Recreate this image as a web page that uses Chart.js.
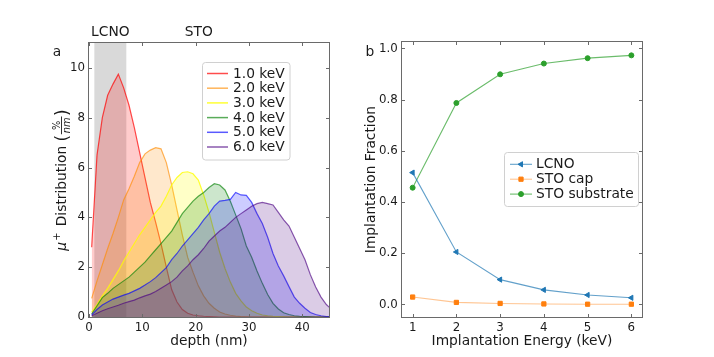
<!DOCTYPE html>
<html><head><meta charset="utf-8">
<script src="https://cdn.jsdelivr.net/npm/chart.js@4.4.1/dist/chart.umd.min.js"></script>
<style>
html,body{margin:0;padding:0;background:#fff;}
#wrap{position:relative;width:714px;height:357px;overflow:hidden;background:#fff;}
canvas{position:absolute;top:0;}
#ca{left:0;} #cb{left:357px;}
</style></head><body>
<div id="wrap"><canvas id="ca" width="357" height="357"></canvas><canvas id="cb" width="357" height="357"></canvas></div>
<script>
// ---------- Panel a data: muon stopping distribution (%/nm) vs depth (nm)
const depth = [0.5,1.5,2.5,3.5,4.5,5.5,6.5,7.5,8.5,9.5,10.5,11.5,12.5,13.5,14.5,15.5,16.5,17.5,18.5,19.5,20.5,21.5,22.5,23.5,24.5,25.5,26.5,27.5,28.5,29.5,30.5,31.5,32.5,33.5,34.5,35.5,36.5,37.5,38.5,39.5,40.5,41.5,42.5,43.5,44.5,45.5];
const dist1keV = [2.8,6.5,8.0,8.9,9.35,9.75,9.2,8.5,7.6,6.6,5.6,4.6,3.8,2.95,2.0,1.1,0.6,0.3,0.15,0.08,0.05,0.03,0.02,0.01,0,0,0,0,0,0,0,0,0,0,0,0,0,0,0,0,0,0,0,0,0,0];
const dist2keV = [0.75,1.45,2.1,2.75,3.35,4.0,4.7,5.15,5.65,6.2,6.55,6.7,6.8,6.75,6.2,5.3,4.3,3.3,2.4,1.8,1.25,0.85,0.55,0.35,0.2,0.12,0.07,0.04,0.02,0.01,0,0,0,0,0,0,0,0,0,0,0,0,0,0,0,0];
const dist3keV = [0.2,0.5,0.85,1.15,1.5,1.85,2.25,2.6,2.95,3.3,3.6,3.9,4.2,4.45,4.85,5.3,5.6,5.8,5.83,5.75,5.5,4.9,4.2,3.4,2.6,1.95,1.4,0.95,0.65,0.4,0.25,0.15,0.08,0.05,0.03,0.02,0.01,0,0,0,0,0,0,0,0,0];
const dist4keV = [0.12,0.45,0.78,0.95,1.15,1.3,1.45,1.6,1.8,2.0,2.2,2.45,2.7,2.95,3.2,3.45,3.8,4.15,4.4,4.65,4.85,5.0,5.2,5.35,5.3,5.1,4.65,4.1,3.55,2.85,2.4,1.85,1.35,0.9,0.55,0.32,0.17,0.1,0.05,0.03,0.02,0.01,0,0,0,0];
const dist5keV = [0.08,0.3,0.48,0.6,0.72,0.8,0.88,0.95,1.05,1.15,1.28,1.42,1.58,1.78,1.98,2.3,2.55,2.85,3.1,3.35,3.6,3.9,4.15,4.45,4.65,4.68,4.72,5.0,4.9,4.88,4.6,4.15,3.75,3.2,2.55,2.05,1.65,1.22,0.8,0.55,0.35,0.18,0.1,0.05,0.02,0.01];
const dist6keV = [0.05,0.15,0.25,0.33,0.4,0.47,0.55,0.62,0.68,0.77,0.85,0.92,1.02,1.15,1.28,1.42,1.6,1.85,2.05,2.3,2.5,2.75,3.05,3.25,3.45,3.6,3.8,4.0,4.15,4.3,4.45,4.55,4.6,4.55,4.5,4.2,3.9,3.65,3.2,2.75,2.3,1.7,1.2,0.8,0.5,0.3];
const energyLabels = ['1.0 keV','2.0 keV','3.0 keV','4.0 keV','5.0 keV','6.0 keV'];
const xTicksA = [0,10,20,30,40];
const yTicksA = [0,2,4,6,8,10];
const lcnoLayer = [1,7];   // nm, LCNO layer band

// ---------- Panel b data: implantation fraction vs energy
const energies = [1,2,3,4,5,6];
const fracLCNO = [0.515,0.205,0.097,0.057,0.037,0.026];
const fracSTOcap = [0.029,0.008,0.004,0.002,0.001,0.001];
const fracSTOsub = [0.456,0.787,0.899,0.941,0.962,0.973];
const seriesLabelsB = ['LCNO','STO cap','STO substrate'];
const xTicksB = [1,2,3,4,5,6];
const yTicksB = [0,0.2,0.4,0.6,0.8,1.0];

// ---------- styles
const FONT = "'DejaVu Sans', sans-serif";
const TXT = '#1a1a1a';
const seriesA = [dist1keV,dist2keV,dist3keV,dist4keV,dist5keV,dist6keV];
const lineColorsA = ['rgba(255,0,0,0.7)','rgba(255,140,0,0.65)','rgba(255,255,0,0.8)','rgba(0,128,0,0.65)','rgba(0,0,255,0.65)','rgba(75,0,130,0.65)'];
const fillColorsA = ['rgba(255,0,0,0.2)','rgba(255,140,0,0.2)','rgba(255,255,0,0.22)','rgba(0,128,0,0.2)','rgba(0,0,255,0.2)','rgba(75,0,130,0.2)'];
const colorsB = ['#1f77b4','#ff7f0e','#2ca02c'];
const lineColorsB = ['rgba(31,119,180,0.7)','rgba(255,127,14,0.45)','rgba(44,160,44,0.7)'];

function frameTicks(xTicks, yTicks){
  return { id:'frameTicks', afterDatasetsDraw(chart){
    const {ctx, chartArea:a, scales:{x,y}} = chart;
    ctx.save();
    ctx.strokeStyle = '#6a6a6a'; ctx.lineWidth = 1;
    const L=Math.round(a.left)-0.5, R=Math.round(a.right)+0.5, T=Math.round(a.top)-0.5, B=Math.round(a.bottom)+0.5;
    ctx.strokeRect(L,T,R-L,B-T);
    ctx.beginPath();
    xTicks.forEach(v=>{ const p=Math.round(x.getPixelForValue(v))+0.5; ctx.moveTo(p,B); ctx.lineTo(p,B-3.5); ctx.moveTo(p,T); ctx.lineTo(p,T+3.5); });
    yTicks.forEach(v=>{ const p=Math.round(y.getPixelForValue(v))+0.5; ctx.moveTo(L,p); ctx.lineTo(L+3.5,p); ctx.moveTo(R,p); ctx.lineTo(R-3.5,p); });
    ctx.stroke();
    ctx.restore();
  }};
}
function roundRect(ctx,x,y,w,h,r){
  ctx.beginPath(); ctx.moveTo(x+r,y); ctx.lineTo(x+w-r,y); ctx.quadraticCurveTo(x+w,y,x+w,y+r);
  ctx.lineTo(x+w,y+h-r); ctx.quadraticCurveTo(x+w,y+h,x+w-r,y+h); ctx.lineTo(x+r,y+h);
  ctx.quadraticCurveTo(x,y+h,x,y+h-r); ctx.lineTo(x,y+r); ctx.quadraticCurveTo(x,y,x+r,y); ctx.closePath();
}

// ---------- Chart A
const bandPlugin = { id:'band', beforeDatasetsDraw(chart){
  const {ctx, chartArea:a, scales:{x}} = chart;
  const x0 = x.getPixelForValue(lcnoLayer[0]), x1 = x.getPixelForValue(lcnoLayer[1]);
  ctx.save(); ctx.fillStyle='rgba(128,128,128,0.3)'; ctx.fillRect(x0,a.top,x1-x0,a.bottom-a.top); ctx.restore();
}};
const annoA = { id:'annoA', afterDraw(chart){
  const {ctx, chartArea:a, scales:{x}} = chart;
  ctx.save();
  ctx.fillStyle = TXT; ctx.textBaseline='middle'; ctx.textAlign='center';
  ctx.font = '13.8px '+FONT;
  ctx.fillText('LCNO', x.getPixelForValue((lcnoLayer[0]+lcnoLayer[1])/2), 32);
  ctx.fillText('STO', x.getPixelForValue(20.6), 32);
  ctx.fillText('a', 57, 52);
  // legend
  const bx=202.5, by=62.5, bw=87.5, bh=97.5;
  roundRect(ctx,bx,by,bw,bh,3); ctx.fillStyle='rgba(255,255,255,0.85)'; ctx.fill();
  ctx.strokeStyle='#d0d0d0'; ctx.lineWidth=1; ctx.stroke();
  ctx.textAlign='left';
  chart.data.datasets.forEach((ds,i)=>{
    const yy = 73.5 + i*14.7;
    ctx.strokeStyle = ds.borderColor; ctx.lineWidth=1.5;
    ctx.beginPath(); ctx.moveTo(207,yy); ctx.lineTo(228,yy); ctx.stroke();
    ctx.fillStyle = TXT; ctx.fillText(ds.label, 233, yy+0.5);
  });
  // y-axis title: mu+ Distribution (%/nm)
  ctx.translate(61, 180); ctx.rotate(-Math.PI/2);
  const big = '13.8px '+FONT, bigI = 'italic 13.8px '+FONT, sm = '9.8px '+FONT, smI = 'italic 9.8px '+FONT, par = '17px '+FONT;
  const m = (f,t)=>{ctx.font=f; return ctx.measureText(t).width;};
  const wMu=m(bigI,'μ'), wPlus=m(sm,'+'), wDist=m(big,' Distribution '), wPar=m(par,'('), wNum=m(sm,'%'), wDen=m(smI,'nm');
  const wFrac=Math.max(wNum,wDen)+3;
  const total = wMu+wPlus+3+wDist+wPar+wFrac+wPar;
  let cx = -total/2; const base = 5;
  ctx.textAlign='left'; ctx.textBaseline='alphabetic'; ctx.fillStyle=TXT;
  ctx.font=bigI; ctx.fillText('μ',cx,base); cx+=wMu+1;
  ctx.font=sm; ctx.fillText('+',cx,base-6); cx+=wPlus+2;
  ctx.font=big; ctx.fillText(' Distribution ',cx,base); cx+=wDist;
  ctx.font=par; ctx.fillText('(',cx,base+1.5); cx+=wPar;
  const bar = base-4.5;
  ctx.font=sm; ctx.fillText('%',cx+(wFrac-wNum)/2,bar-2);
  ctx.font=smI; ctx.fillText('nm',cx+(wFrac-wDen)/2,bar+8.5);
  ctx.strokeStyle=TXT; ctx.lineWidth=0.9; ctx.beginPath(); ctx.moveTo(cx+0.5,bar); ctx.lineTo(cx+wFrac-0.5,bar); ctx.stroke();
  cx+=wFrac;
  ctx.font=par; ctx.fillText(')',cx,base+1.5);
  ctx.restore();
}};

new Chart(document.getElementById('ca'), {
  type:'line',
  data:{ datasets: seriesA.map((vals,i)=>({
    label: energyLabels[i],
    data: depth.map((d,j)=>({x:d, y:vals[j]})),
    borderColor: lineColorsA[i], backgroundColor: fillColorsA[i],
    fill:'origin', borderWidth:1.2, pointRadius:0, tension:0, order: seriesA.length-1-i
  }))},
  options:{
    responsive:false, animation:false, events:[],
    layout:{ padding:{left:0,right:28,top:43,bottom:0} },
    plugins:{ legend:{display:false}, tooltip:{enabled:false} },
    scales:{
      x:{ type:'linear', min:0, max:45,
        afterBuildTicks:s=>{ s.ticks = xTicksA.map(v=>({value:v})); },
        afterFit:s=>{ s.height = 40; },
        grid:{display:false, drawTicks:false}, border:{display:false},
        ticks:{ autoSkip:false, maxRotation:0, padding:4, color:TXT, font:{family:FONT,size:11.8}, callback:v=>String(v) },
        title:{ display:true, text:'depth (nm)', color:TXT, font:{family:FONT,size:13.8}, padding:{top:0,bottom:7.5} }
      },
      y:{ type:'linear', min:0, max:11,
        afterBuildTicks:s=>{ s.ticks = yTicksA.map(v=>({value:v})); },
        afterFit:s=>{ s.width = 89; },
        grid:{display:false, drawTicks:false}, border:{display:false},
        ticks:{ autoSkip:false, padding:4, color:TXT, font:{family:FONT,size:11.8}, callback:v=>String(v) }
      }
    }
  },
  plugins:[bandPlugin, frameTicks(xTicksA,yTicksA), annoA]
});

// ---------- Chart B
const pointStylesB = ['triangle','rect','circle'];
const pointRotB = [270,0,0];
const pointRadB = [3.0,3.0,2.5];
const annoB = { id:'annoB', afterDraw(chart){
  const {ctx} = chart;
  ctx.save();
  ctx.fillStyle=TXT; ctx.font='13.8px '+FONT; ctx.textBaseline='middle'; ctx.textAlign='center';
  ctx.fillText('b', 13, 52);
  const bx=147.5, by=152.5, bw=134, bh=54;
  roundRect(ctx,bx,by,bw,bh,3); ctx.fillStyle='rgba(255,255,255,0.85)'; ctx.fill();
  ctx.strokeStyle='#d0d0d0'; ctx.lineWidth=1; ctx.stroke();
  ctx.textAlign='left';
  chart.data.datasets.forEach((ds,i)=>{
    const yy = 164.3 + i*14.9;
    ctx.strokeStyle = ds.borderColor; ctx.lineWidth=1.1;
    ctx.beginPath(); ctx.moveTo(153,yy); ctx.lineTo(175,yy); ctx.stroke();
    ctx.fillStyle=colorsB[i]; ctx.strokeStyle=colorsB[i]; ctx.lineWidth=1;
    Chart.helpers.drawPoint(ctx, {pointStyle:ds.pointStyle, rotation:ds.pointRotation, radius:ds.pointRadius, borderWidth:1}, 164, yy);
    ctx.fillStyle = TXT; ctx.fillText(ds.label, 179, yy+0.5);
  });
  ctx.restore();
}};

new Chart(document.getElementById('cb'), {
  type:'line',
  data:{ datasets: [fracLCNO, fracSTOcap, fracSTOsub].map((vals,i)=>({
    label: seriesLabelsB[i],
    data: energies.map((e,j)=>({x:e, y:vals[j]})),
    borderColor: lineColorsB[i], backgroundColor: colorsB[i],
    pointBackgroundColor: colorsB[i], pointBorderColor: colorsB[i], pointBorderWidth:1,
    pointStyle: pointStylesB[i], pointRotation: pointRotB[i], pointRadius: pointRadB[i],
    borderWidth:1.1, fill:false, tension:0
  }))},
  options:{
    responsive:false, animation:false, events:[],
    layout:{ padding:{left:0,right:71.7,top:42.3,bottom:0} },
    plugins:{ legend:{display:false}, tooltip:{enabled:false} },
    scales:{
      x:{ type:'linear', min:0.75, max:6.25,
        afterBuildTicks:s=>{ s.ticks = xTicksB.map(v=>({value:v})); },
        afterFit:s=>{ s.height = 40; },
        grid:{display:false, drawTicks:false}, border:{display:false},
        ticks:{ autoSkip:false, maxRotation:0, padding:4, color:TXT, font:{family:FONT,size:11.8}, callback:v=>String(v) },
        title:{ display:true, text:'Implantation Energy (keV)', color:TXT, font:{family:FONT,size:13.8}, padding:{top:0,bottom:7.5} }
      },
      y:{ type:'linear', min:-0.049, max:1.024,
        afterBuildTicks:s=>{ s.ticks = yTicksB.map(v=>({value:v})); },
        afterFit:s=>{ s.width = 44.7; },
        grid:{display:false, drawTicks:false}, border:{display:false},
        ticks:{ autoSkip:false, padding:4, color:TXT, font:{family:FONT,size:11.8}, callback:v=>Number(v).toFixed(1) },
        title:{ display:true, text:'Implantation Fraction', color:TXT, font:{family:FONT,size:13.8}, padding:{top:5.7,bottom:0} }
      }
    }
  },
  plugins:[frameTicks(xTicksB,yTicksB), annoB]
});
</script></body></html>
